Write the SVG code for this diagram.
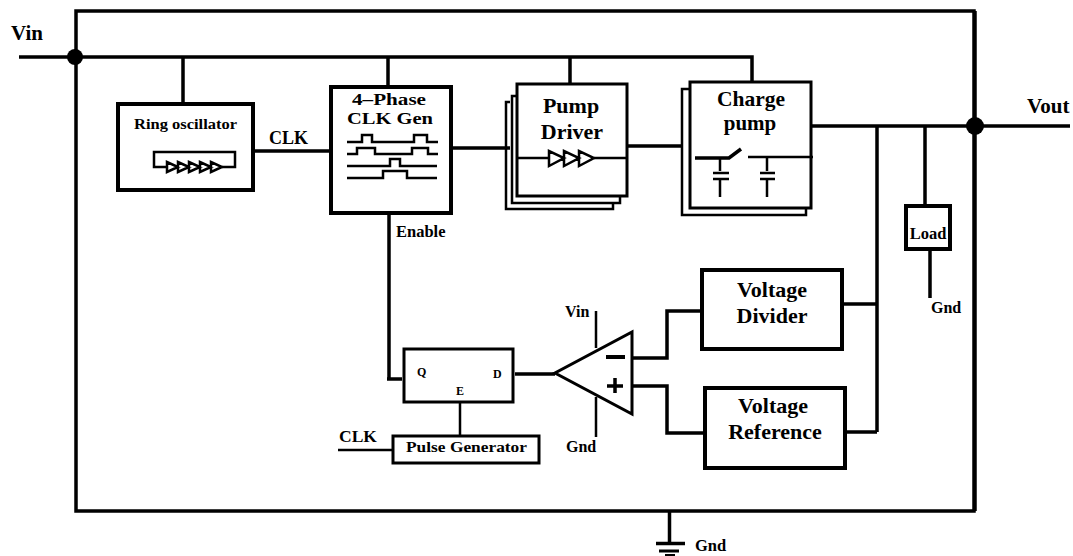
<svg xmlns="http://www.w3.org/2000/svg" width="1073" height="556" viewBox="0 0 1073 556">
<style>
text{font-family:"Liberation Serif","Times New Roman",serif;font-weight:bold;fill:#000}
.b{fill:#fff;stroke:#000;stroke-width:4}
.m{fill:#fff;stroke:#000;stroke-width:3}
.l{fill:none;stroke:#000;stroke-width:3.5}
.t{fill:none;stroke:#000;stroke-width:2.5}
.c{text-anchor:middle}
</style>
<rect width="1073" height="556" fill="#fff"/>
<g id="connectors">
<path class="l" d="M76 11H974V511H76Z"/>
<path class="l" d="M19 57H76M76 57H752V82M183 57V104M388 57V87M570 57V84"/>
<path class="l" d="M812 126H1070M975 11V126M975 126V511M877 126V432M925 126V206M930 249V298"/>
<path class="l" d="M253 151H330M452 148H510M628 146H682"/>
<path class="l" d="M389 214V379M387 379H402"/>
<path class="l" d="M515 374H555M633 358H667V311H702M633 386H667V433H704M843 304H877M846 432H877"/>
<path class="t" d="M596 311V348M596 397V437M460 403V436M338 450H393"/>
<path class="l" d="M669.500 511V543"/>
<path d="M656 543.500H685" stroke="#000" stroke-width="3.500"/>
<path d="M659 551H679" stroke="#000" stroke-width="3"/>
<path d="M665 555H675" stroke="#000" stroke-width="2"/>
<circle cx="75" cy="57" r="8"/>
<circle cx="975" cy="126" r="9"/>
</g>
<g id="ring-oscillator">
<rect class="b" x="118" y="104" width="135" height="86"/>
<text x="134" y="129" font-size="15.500" textLength="103" lengthAdjust="spacingAndGlyphs">Ring oscillator</text>
<path class="t" d="M167 167H154V152H235V167H222"/>
<path class="t" d="M167 162V172L178 167ZM178 162V172L189 167ZM189 162V172L200 167ZM200 162V172L211 167ZM211 162V172L222 167Z"/>
</g>
<text id="clk-top" x="269" y="144" font-size="18">CLK</text>
<g id="clk-gen">
<rect class="b" x="331" y="87" width="120" height="126"/>
<text x="352" y="105" font-size="17" textLength="74" lengthAdjust="spacingAndGlyphs">4–Phase</text>
<text x="347" y="124" font-size="17" textLength="86" lengthAdjust="spacingAndGlyphs">CLK Gen</text>
<path class="t" d="M347 142H362V135H372V142H414V135H427V142H438"/>
<path class="t" d="M347 154H357V148H375V154H412V148H428V154H438"/>
<path class="t" d="M347 166H390V159H400V166H437"/>
<path class="t" d="M347 178H383V171H407V178H437"/>
</g>
<text id="enable" x="396" y="237" font-size="16.500">Enable</text>
<g id="pump-driver">
<path class="t" d="M510 102H506V209H613V204"/>
<path class="t" d="M517 96H512V203H620V197"/>
<rect class="m" x="517" y="84" width="110" height="112"/>
<text class="c" x="571" y="113" font-size="22">Pump</text>
<text class="c" x="572" y="139" font-size="22">Driver</text>
<path class="t" d="M518 158H549M594 158H627"/>
<path class="t" d="M549 151V166L564 158ZM564 151V166L579 158ZM579 151V166L594 158Z"/>
</g>
<g id="charge-pump">
<path class="t" d="M690 89H682V215H806V209"/>
<rect class="m" x="690" y="82" width="121" height="126"/>
<text class="c" x="751" y="106" font-size="21.500">Charge</text>
<text class="c" x="750" y="130" font-size="21">pump</text>
<path class="l" d="M695 158H729L741 149"/>
<path class="t" d="M748 157H813M720 158V171M713 173H729M713 179H729M720 179V197M767 158V171M760 173H775M760 179H775M767 179V197"/>
</g>
<g id="load">
<rect class="b" x="906" y="206" width="44" height="43"/>
<text class="c" x="928" y="239" font-size="16.500">Load</text>
</g>
<text id="gnd-load" x="931" y="313" font-size="16">Gnd</text>
<g id="voltage-divider">
<rect class="b" x="702" y="270" width="140" height="79"/>
<text class="c" x="772" y="297" font-size="22">Voltage</text>
<text class="c" x="772" y="323" font-size="22">Divider</text>
</g>
<g id="voltage-reference">
<rect class="b" x="705" y="388" width="140" height="80"/>
<text class="c" x="773" y="413" font-size="22">Voltage</text>
<text class="c" x="775" y="439" font-size="22">Reference</text>
</g>
<g id="comparator">
<path class="m" d="M632 332V414L555 373Z"/>
<path d="M606 357H625" stroke="#000" stroke-width="4"/>
<path d="M607 386H623M615 378V393" stroke="#000" stroke-width="3.500"/>
<text x="565" y="317" font-size="16">Vin</text>
<text x="566" y="452" font-size="16">Gnd</text>
</g>
<g id="flip-flop">
<rect class="m" x="404" y="349" width="109" height="53"/>
<text x="417" y="376" font-size="12">Q</text>
<text x="493" y="378" font-size="12">D</text>
<text x="456" y="395" font-size="12">E</text>
</g>
<g id="pulse-generator">
<rect class="m" x="393" y="436" width="146" height="27"/>
<text x="406" y="452" font-size="15" textLength="121" lengthAdjust="spacingAndGlyphs">Pulse Generator</text>
</g>
<text id="clk-bottom" x="339" y="442" font-size="17.500">CLK</text>
<text id="vin" x="11" y="40" font-size="21">Vin</text>
<text id="vout" x="1027" y="113" font-size="21">Vout</text>
<text id="gnd-bottom" x="695" y="551" font-size="16.500">Gnd</text>
</svg>
